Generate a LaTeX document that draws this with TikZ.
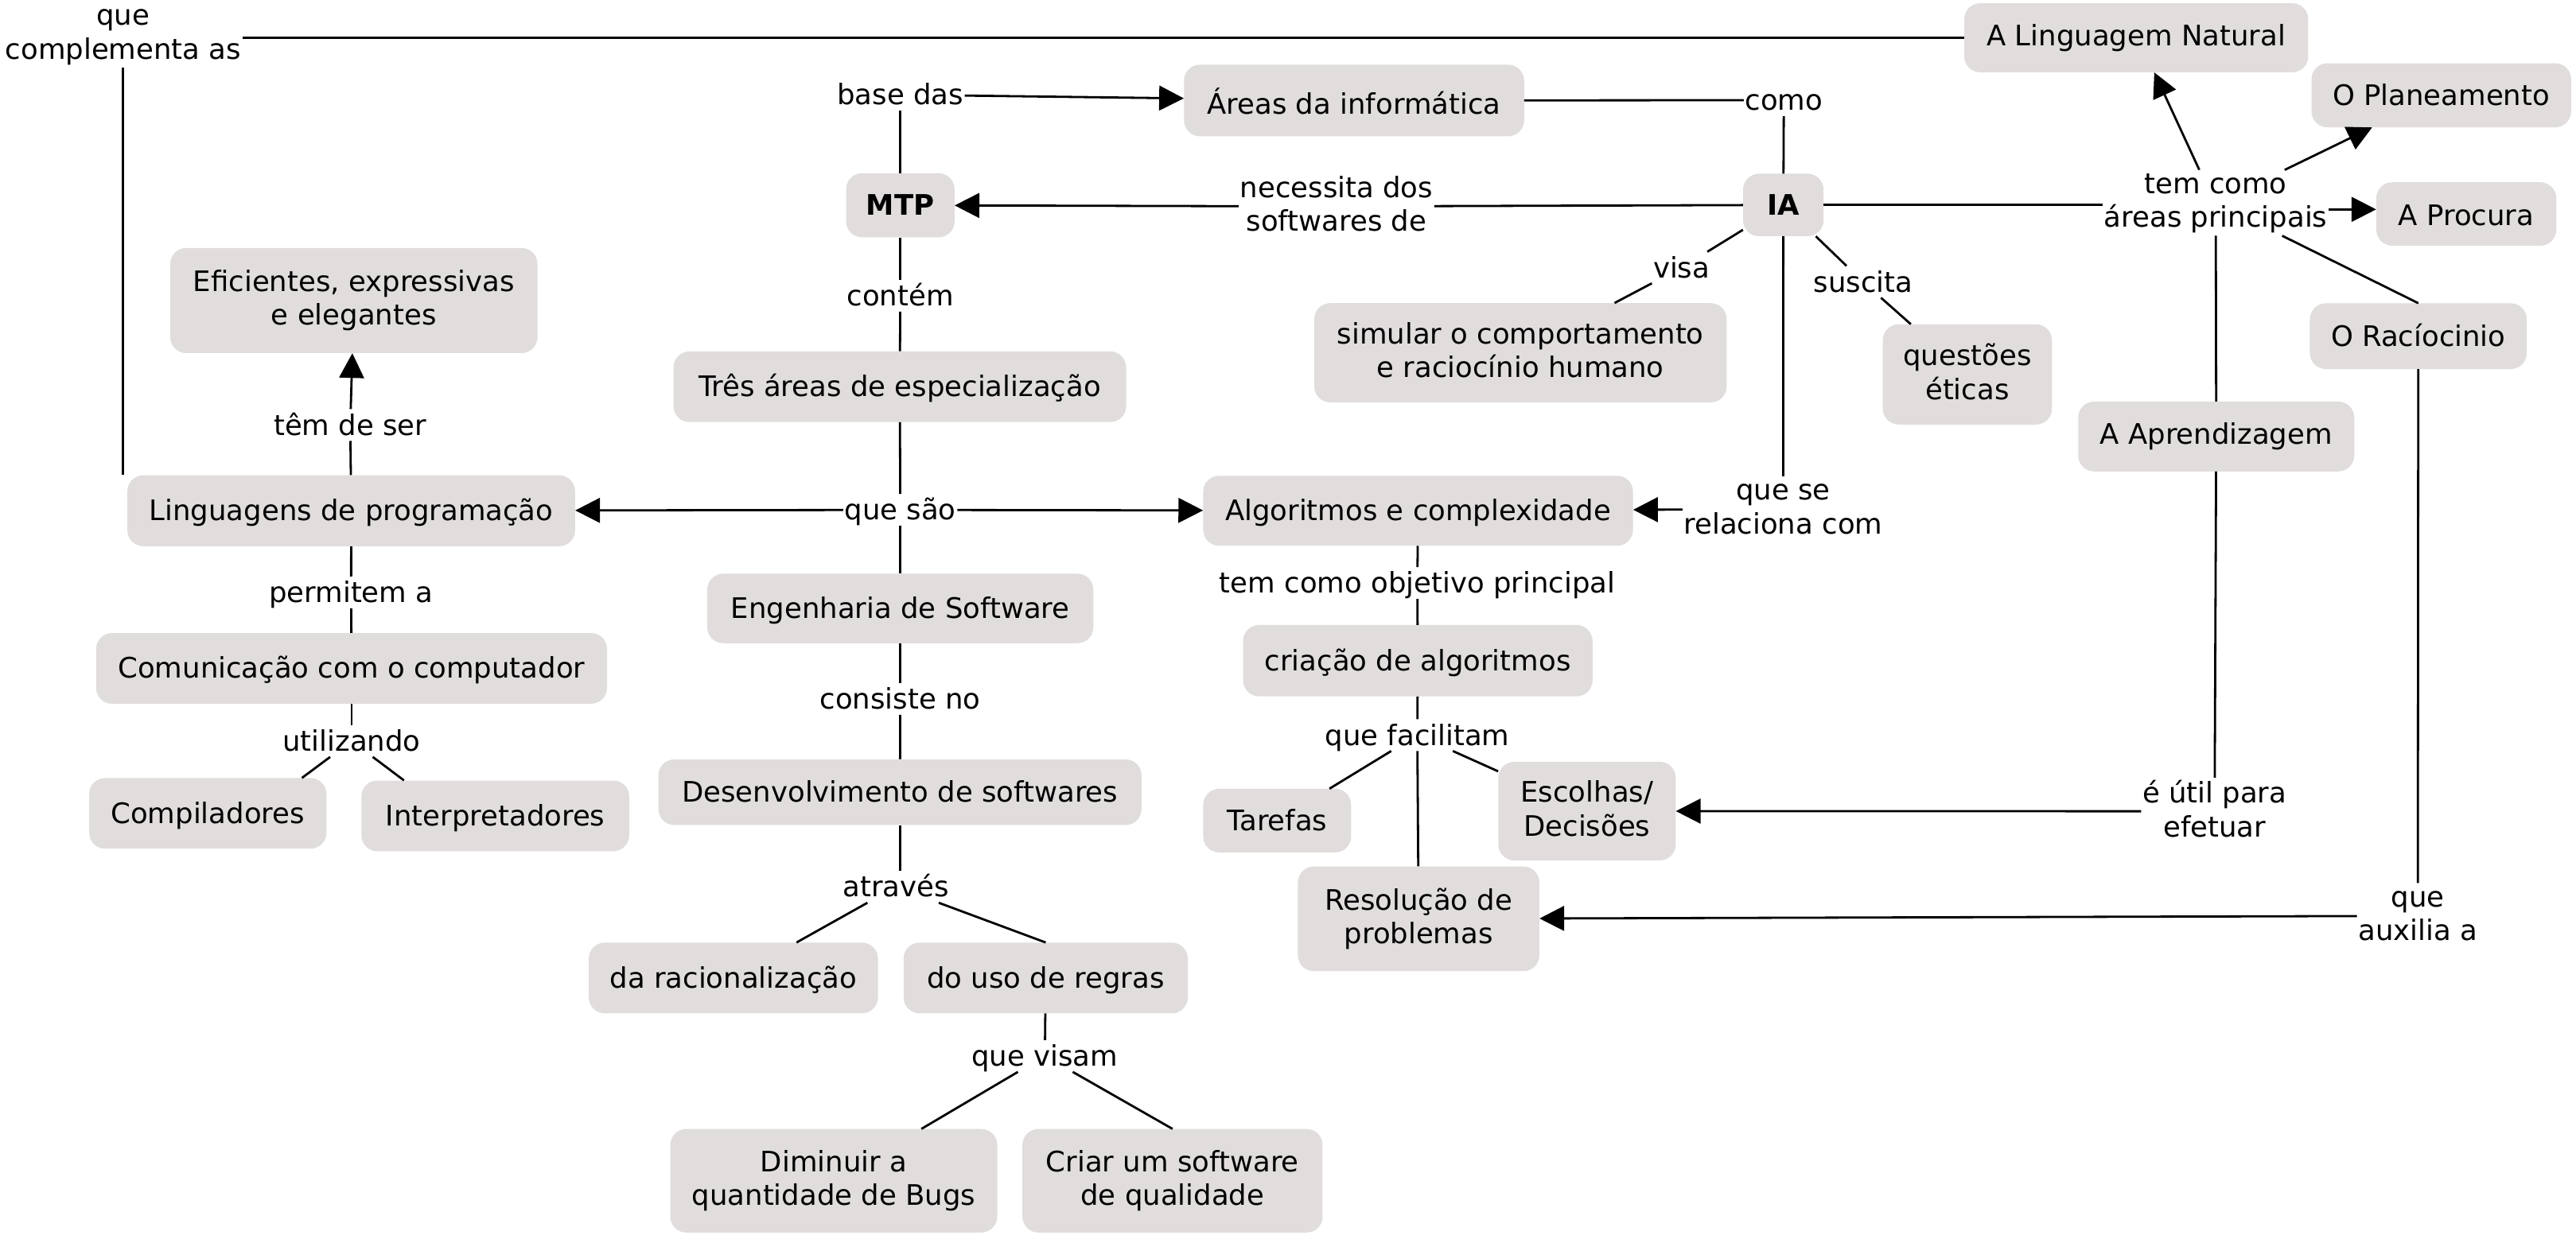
\documentclass[tikz,border=0pt]{standalone}
\usepackage{fontspec}
\setmainfont{DejaVu Sans}
\usetikzlibrary{arrows.meta,calc}
\definecolor{boxgray}{RGB}{224,221,220}
\newcommand\tw[2]{\rule{0pt}{26.6pt}#1\\#2\rule[-7.1pt]{0pt}{0pt}}
\newcommand\bx[7][]{\node[cbox,#1,minimum width=#5*2.06505pt,minimum height=#6*2.06505pt] (#2) at (#3,#4) {#7};}
\newcommand\bxm[6]{\node[cboxm,minimum width=#4*2.06505pt,minimum height=#5*2.06505pt] (#1) at (#2,#3) {#6};}
\begin{document}
\begin{tikzpicture}[x=2.06505pt,y=-2.06505pt,
  every node/.style={font=\fontsize{35.5}{42.5}\selectfont, inner sep=0pt},
  cbox/.style={fill=boxgray, rounded corners=20pt, text height=29.35pt, text depth=4.35pt},
  b168/.style={text height=33.65pt, text depth=0.05pt},
  b143/.style={text height=31.15pt, text depth=2.55pt},
  b105/.style={text height=27.35pt, text depth=6.35pt},
  b95/.style={text height=26.35pt, text depth=7.35pt},
  cboxm/.style={fill=boxgray, rounded corners=20pt, align=center},
  lab/.style={inner xsep=1.5pt, inner ysep=3pt, text height=29.6pt, text depth=4.1pt},
  labm/.style={inner xsep=1.5pt, inner ysep=3pt, align=center},
  conn/.style={line width=2.8pt},
  arr/.style={conn, -{Triangle[length=31pt,width=31pt]}}
]
\fill[white] (0,0) rectangle (1568,754);
\useasboundingbox (0,0) rectangle (1568,754);

% concept boxes
\bx[b105]{LN}{1300.3}{23}{209.4}{42}{A Linguagem Natural}
\bx{plan}{1486}{58}{158}{39}{O Planeamento}
\bx[b143]{proc}{1501.2}{130.3}{109.5}{38.6}{A Procura}
\bx{rac}{1472}{204.7}{132}{40}{O Racíocinio}
\bx[b95]{aprend}{1349}{265.8}{168}{42.5}{A Aprendizagem}
\bx{IA}{1085.5}{124.8}{49}{38}{\bfseries IA}
\bx{MTP}{548}{125}{66}{39}{\bfseries MTP}
\bx[b168]{areas}{824.2}{61.2}{207}{43.6}{Áreas da informática}
\bxm{efic}{215.4}{183}{223.5}{64}{\tw{Eficientes, expressivas}{e elegantes}}
\bx{tres}{547.7}{235.5}{275.5}{43}{Três áreas de especialização}
\bxm{simular}{925.5}{214.8}{251}{60.4}{\tw{simular o comportamento}{e raciocínio humano}}
\bxm{quest}{1197.5}{228}{103}{61}{\tw{questões}{éticas}}
\bx{ling}{213.8}{311}{272.5}{43.2}{Linguagens de programação}
\bx{algo}{863.2}{311}{261.6}{42.6}{Algoritmos e complexidade}
\bx{eng}{548}{370.5}{235}{42.3}{Engenharia de Software}
\bx{comu}{214}{407}{311}{43}{Comunicação com o computador}
\bx{cria}{863}{402.3}{212.7}{43.4}{criação de algoritmos}
\bx{compi}{126.5}{495.3}{144.4}{43}{Compiladores}
\bx{interp}{301.5}{496.8}{163}{43}{Interpretadores}
\bx{desenv}{547.8}{482.4}{294}{40}{Desenvolvimento de softwares}
\bx{taref}{777.4}{499.7}{90}{38.7}{Tarefas}
\bxm{escol}{966}{493.9}{108}{60}{\tw{Escolhas/}{Decisões}}
\bxm{resol}{863.5}{559.5}{147}{63.7}{\tw{Resolução de}{problemas}}
\bx{racio}{446.4}{595.5}{176}{43}{da racionalização}
\bx{regras}{636.5}{595.5}{173}{43}{do uso de regras}
\bxm{dimin}{507.5}{719}{199}{63}{\tw{Diminuir a}{quantidade de Bugs}}
\bxm{criar}{713.7}{719}{182.7}{63}{\tw{Criar um software}{de qualidade}}

% linking phrases
\node[labm] (qca) at (75,21) {\tw{que}{complementa as}};
\node[lab] (based) at (548,57.7) {base das};
\node[lab] (como) at (1085.8,61) {como};
\node[labm] (necess) at (813.5,125.7) {\tw{necessita dos}{softwares de}};
\node[labm] (tca) at (1348.7,123.5) {\tw{tem como}{áreas principais}};
\node[lab] (visa) at (1023.5,163) {visa};
\node[lab] (susc) at (1134,171.6) {suscita};
\node[lab] (contem) at (548,180) {contém};
\node[lab] (temde) at (213.2,258.8) {têm de ser};
\node[lab] (quesao) at (548,310.5) {que são};
\node[labm] (relac) at (1085.4,310) {\tw{que se}{relaciona com}};
\node[lab] (objet) at (862.7,355) {tem como objetivo principal};
\node[lab] (permit) at (213.7,360.8) {permitem a};
\node[lab] (consist) at (548,425.6) {consiste no};
\node[lab] (facil) at (862.7,447.6) {que facilitam};
\node[lab] (utiliz) at (214,451.2) {utilizando};
\node[labm] (util) at (1348,494) {\tw{é útil para}{efetuar}};
\node[lab] (atraves) at (545.3,540) {através};
\node[labm] (auxil) at (1471.7,557.7) {\tw{que}{auxilia a}};
\node[lab] (visam) at (636,643) {que visam};

% connectors
\draw[conn] (LN.west) -- (LN.west -| qca.east);
\draw[conn] (qca.south) -- (qca.south |- ling.north);
\draw[conn] (MTP) -- (based);
\draw[arr] (based) -- (areas);
\draw[conn] (areas) -- (como);
\draw[conn] (como) -- (IA);
\draw[conn] (IA) -- (necess);
\draw[arr] (necess) -- (MTP);
\draw[conn] (IA.east) -- (IA.east -| tca.west);
\draw[arr] ($(tca.north)+(-10,0)$) -- ($(LN.south)+(11,0)$);
\draw[arr] ($(tca.north)+(42,0)$) -- ($(plan.south west)+(37,0)$);
\coordinate (tp) at ($(tca.east)+(0,4)$);
\draw[arr] (tp) -- (tp -| proc.west);
\draw[conn] (tca) -- (rac.north);
\draw[conn] (tca) -- (aprend);
\draw[conn] (IA) -- (visa);
\draw[conn] (visa) -- (simular);
\draw[conn] (IA) -- (susc);
\draw[conn] (susc) -- (quest);
\draw[conn] (IA) -- (relac);
\draw[arr] (relac) -- (algo);
\draw[conn] (MTP) -- (contem);
\draw[conn] (contem) -- (tres);
\draw[conn] (tres) -- (quesao);
\draw[arr] (quesao) -- (ling);
\draw[arr] (quesao) -- (algo);
\draw[conn] (quesao) -- (eng);
\draw[conn] (ling) -- (temde);
\draw[arr] (temde) -- (efic);
\draw[conn] (ling) -- (permit);
\draw[conn] (permit) -- (comu);
\draw[conn] (comu) -- (utiliz);
\draw[conn] (utiliz) -- ($(compi.north east)+(-15,0)$);
\draw[conn] (utiliz) -- ($(interp.north west)+(26,0)$);
\draw[conn] (eng) -- (consist);
\draw[conn] (consist) -- (desenv);
\draw[conn] (desenv.south) -- (desenv.south |- atraves.north);
\draw[conn] (atraves) -- (racio);
\draw[conn] (atraves) -- (regras.north);
\draw[conn] (regras) -- (visam);
\draw[conn] (visam) -- (dimin);
\draw[conn] (visam) -- (criar.north);
\draw[conn] (algo) -- (objet);
\draw[conn] (objet) -- (cria);
\draw[conn] (cria) -- (facil);
\draw[conn] (facil) -- (taref);
\draw[conn] (facil) -- (escol);
\draw[conn] (facil) -- (resol);
\draw[conn] (aprend) -- (util);
\draw[arr] (util) -- (escol);
\draw[conn] (rac) -- (auxil);
\draw[arr] (auxil) -- (resol);
\end{tikzpicture}
\end{document}
